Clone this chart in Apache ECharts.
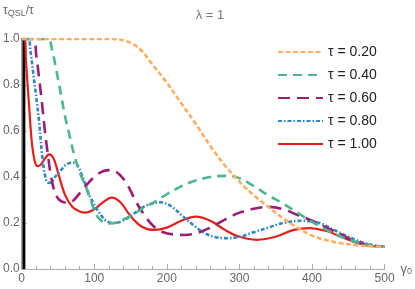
<!DOCTYPE html>
<html><head><meta charset="utf-8">
<style>html,body{margin:0;padding:0;background:#fff}#c{width:415px;height:289px}</style>
<script src="https://cdn.jsdelivr.net/npm/echarts@6/dist/echarts.min.js"></script>
</head><body><div id="c"></div>
<script>
const seriesNames = ['τ = 0.20','τ = 0.40','τ = 0.60','τ = 0.80','τ = 1.00'];
const xTicks = [0,100,200,300,400,500];
const yTicks = [0.0,0.2,0.4,0.6,0.8,1.0];
const tau020 = [[0,1],[120,1],[135,0.998],[145,0.99],[155,0.975],[165,0.95],[180,0.89],[200,0.81],[220,0.72],[240,0.63],[260,0.535],[280,0.45],[300,0.38],[320,0.32],[340,0.27],[360,0.22],[380,0.18],[400,0.145],[420,0.125],[440,0.112],[460,0.104],[480,0.099],[500,0.097]];
const tau040 = [[0,1],[36,1],[42,0.95],[48,0.86],[54,0.76],[60,0.66],[66,0.58],[72,0.5],[80,0.42],[88,0.36],[96,0.29],[104,0.23],[112,0.205],[120,0.198],[128,0.2],[140,0.215],[155,0.24],[170,0.27],[182,0.29],[200,0.325],[220,0.36],[240,0.385],[260,0.4],[280,0.405],[300,0.395],[320,0.36],[340,0.32],[360,0.285],[380,0.245],[400,0.205],[420,0.17],[440,0.14],[460,0.118],[480,0.102],[500,0.097]];
const tau060 = [[0,1],[16,1],[20,0.93],[24,0.83],[28,0.72],[32,0.6],[36,0.5],[40,0.41],[46,0.33],[52,0.3],[58,0.29],[64,0.287],[72,0.3],[85,0.35],[100,0.4],[112,0.425],[124,0.43],[135,0.41],[145,0.37],[158,0.29],[170,0.23],[182,0.185],[195,0.16],[210,0.15],[225,0.148],[240,0.155],[260,0.18],[280,0.215],[300,0.245],[320,0.262],[340,0.27],[360,0.26],[380,0.235],[400,0.21],[420,0.18],[440,0.15],[460,0.12],[480,0.103],[500,0.097]];
const tau080 = [[0,1],[9,1],[12,0.95],[16,0.85],[20,0.75],[24,0.64],[28,0.5],[32,0.41],[36,0.375],[40,0.375],[46,0.4],[54,0.43],[62,0.455],[70,0.462],[76,0.455],[84,0.4],[92,0.33],[100,0.28],[108,0.24],[116,0.21],[126,0.2],[136,0.205],[150,0.23],[165,0.265],[180,0.285],[191,0.29],[205,0.275],[220,0.235],[235,0.195],[250,0.16],[265,0.14],[284,0.134],[300,0.14],[320,0.16],[340,0.18],[360,0.2],[387,0.21],[410,0.2],[430,0.17],[450,0.14],[470,0.115],[490,0.1],[500,0.097]];
const tau100 = [[0,1],[4,1],[6,0.9],[10,0.72],[14,0.55],[18,0.47],[22,0.447],[26,0.452],[32,0.48],[38,0.498],[44,0.48],[50,0.42],[60,0.32],[70,0.27],[80,0.25],[88,0.245],[100,0.26],[112,0.29],[124,0.31],[136,0.29],[150,0.23],[165,0.185],[182,0.17],[200,0.18],[220,0.21],[240,0.228],[260,0.21],[280,0.17],[300,0.14],[324,0.127],[350,0.14],[375,0.17],[396,0.178],[420,0.165],[440,0.14],[460,0.115],[480,0.1],[500,0.097]];
const blackLine = [[3,0],[3,1]];

const colors = ['#FDB062','#4DB58F','#9C1D74','#2F88C6','#E2211C'];
const styles = [
  {width:2.6,type:[5,2.5]},
  {width:2.6,type:[9,6]},
  {width:2.6,type:[12,7]},
  {width:2.6,type:[4,2,1.5,2]},
  {width:2.2,type:'solid'}
];
const datasets = [tau020,tau040,tau060,tau080,tau100];

const chart = echarts.init(document.getElementById('c'),null,{renderer:'canvas'});
const series = datasets.map((d,i)=>({
  name: seriesNames[i], type:'line', data:d, smooth:0.35, showSymbol:false, symbol:'none',
  lineStyle:{color:colors[i],width:styles[i].width,type:styles[i].type},
  itemStyle:{color:colors[i]}, z: 10-i, animation:false
}));
series.unshift({name:'black', type:'line', data:blackLine, showSymbol:false, symbol:'none',
  lineStyle:{color:'#000',width:3}, z:1, animation:false, legendHoverLink:false});

const axisGray = '#aaa';
chart.setOption({
  animation:false,
  title:{text:'λ = 1', left:205, top:4, textAlign:'center', textStyle:{fontSize:13, color:'#777', fontWeight:'normal', fontFamily:'Liberation Sans'}},
  legend:{data:seriesNames, orient:'vertical', left:277, top:45, padding:0, itemWidth:45, itemHeight:14, itemGap:9,
    itemStyle:{opacity:0},
    textStyle:{fontSize:14, color:'#222', fontFamily:'Liberation Sans'}},
  grid:{left:20, right:25, top:39, bottom:20, containLabel:false},
  xAxis:{type:'value', min:0, max:500, interval:100,
    name:'{g|γ}{s|0}', nameLocation:'end', nameGap:4,
    nameTextStyle:{rich:{g:{fontSize:13,color:'#666',fontFamily:'Liberation Sans'},s:{fontSize:9,color:'#666',verticalAlign:'bottom',padding:[6,0,0,0],fontFamily:'Liberation Sans'}}},
    axisLine:{lineStyle:{color:axisGray}}, axisTick:{inside:true,length:5,lineStyle:{color:axisGray}},
    minorTick:{show:true,splitNumber:5,length:3,lineStyle:{color:axisGray}},
    axisLabel:{color:'#666',fontSize:12,margin:4,fontFamily:'Liberation Sans',
      formatter:v=>xTicks.includes(v)?String(v):''},
    splitLine:{show:false}},
  yAxis:{type:'value', min:0, max:1, interval:0.2,
    axisLine:{show:true,lineStyle:{color:axisGray}}, axisTick:{show:true,inside:true,length:5,lineStyle:{color:axisGray}},
    minorTick:{show:true,splitNumber:4,length:3,lineStyle:{color:axisGray}},
    axisLabel:{color:'#666',fontSize:12,margin:2,fontFamily:'Liberation Sans',
      formatter:v=>yTicks.some(t=>Math.abs(t-v)<1e-9)?v.toFixed(1):''},
    splitLine:{show:false}},
  graphic:[{type:'text', left:3, top:5, style:{
    text:'{t|τ}{s|QSL}{t|/τ}',
    rich:{t:{fontSize:12,fill:'#666',fontFamily:'Liberation Sans'},s:{fontSize:9,fill:'#666',padding:[5,0,0,0],fontFamily:'Liberation Sans'}}}}],
  series
});
</script></body></html>
